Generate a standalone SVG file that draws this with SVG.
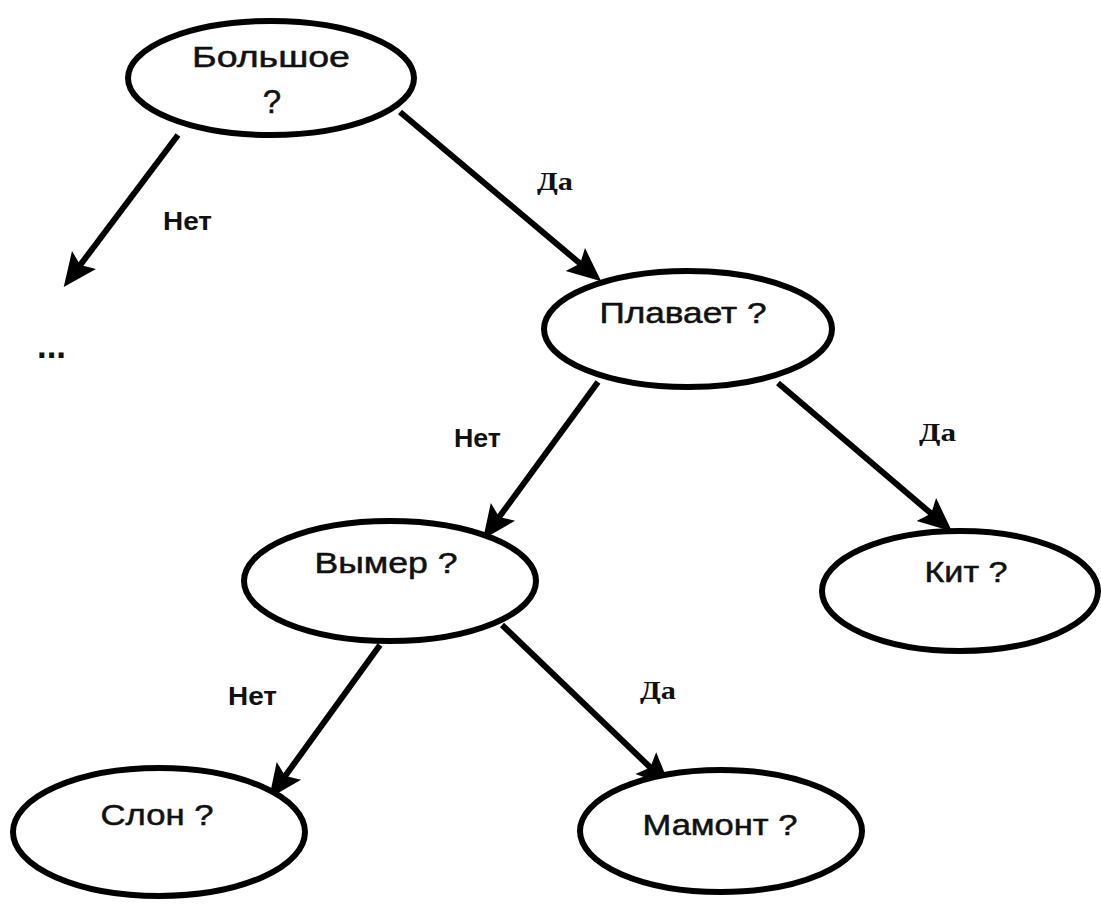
<svg xmlns="http://www.w3.org/2000/svg" width="1101" height="908" viewBox="0 0 1101 908">
  <style>
    .node ellipse { fill: #ffffff; stroke: #000000; stroke-width: 6; }
    .node text { font-family: "Liberation Sans", Arial, sans-serif; font-size: 29px; fill: #111111; stroke: #111111; stroke-width: 0.5; text-anchor: middle; }
    .edge { stroke: #000000; stroke-width: 6; fill: none; marker-end: url(#arrow); }
    .no { font-family: "Liberation Sans", Arial, sans-serif; font-weight: bold; font-size: 26px; fill: #111111; }
    .yes { font-family: "Liberation Serif", "Times New Roman", serif; font-weight: bold; font-size: 26px; fill: #111111; }
    .dots { font-family: "Liberation Sans", Arial, sans-serif; font-weight: bold; font-size: 36px; fill: #111111; }
  </style>
  <defs>
    <marker id="arrow" markerUnits="userSpaceOnUse" markerWidth="40" markerHeight="40" viewBox="-2 -15 32 30" refX="8" refY="0" orient="auto">
      <path d="M0,-12 L27,0 L0,12 L5,0 Z" fill="#000000"/>
    </marker>
  </defs>
  <rect width="1101" height="908" fill="#ffffff"/>

  <!-- connectors -->
  <g id="edges">
    <line class="edge" x1="178" y1="135" x2="78" y2="268"/>
    <line class="edge" x1="400" y1="112" x2="583" y2="266"/>
    <line class="edge" x1="598" y1="382" x2="497" y2="520"/>
    <line class="edge" x1="778" y1="383" x2="934" y2="516"/>
    <line class="edge" x1="380" y1="645" x2="283" y2="779"/>
    <line class="edge" x1="502" y1="625" x2="653" y2="770"/>
  </g>

  <!-- edge labels -->
  <g id="labels">
    <text class="no" x="163" y="230" textLength="49" lengthAdjust="spacingAndGlyphs">Нет</text>
    <text class="yes" x="537" y="190" textLength="36" lengthAdjust="spacingAndGlyphs">Да</text>
    <text class="no" x="454" y="447" textLength="47" lengthAdjust="spacingAndGlyphs">Нет</text>
    <text class="yes" x="919" y="441" textLength="37" lengthAdjust="spacingAndGlyphs">Да</text>
    <text class="no" x="228" y="705" textLength="49" lengthAdjust="spacingAndGlyphs">Нет</text>
    <text class="yes" x="640" y="699" textLength="36" lengthAdjust="spacingAndGlyphs">Да</text>
    <text class="dots" x="37" y="358" textLength="29" lengthAdjust="spacingAndGlyphs">...</text>
  </g>

  <!-- nodes -->
  <g id="node-big" class="node">
    <ellipse cx="271" cy="78" rx="143" ry="57"/>
    <text x="271" y="67" textLength="158" lengthAdjust="spacingAndGlyphs">Большое</text>
    <text x="272" y="113" style="font-size:33px">?</text>
  </g>
  <g id="node-swims" class="node">
    <ellipse cx="688" cy="329" rx="144" ry="58"/>
    <text x="683" y="323" textLength="167" lengthAdjust="spacingAndGlyphs">Плавает ?</text>
  </g>
  <g id="node-extinct" class="node">
    <ellipse cx="390" cy="581" rx="146" ry="60"/>
    <text x="386" y="573" textLength="143" lengthAdjust="spacingAndGlyphs">Вымер ?</text>
  </g>
  <g id="node-whale" class="node">
    <ellipse cx="960" cy="591" rx="138" ry="60"/>
    <text x="966" y="582" textLength="83" lengthAdjust="spacingAndGlyphs">Кит ?</text>
  </g>
  <g id="node-elephant" class="node">
    <ellipse cx="159" cy="832" rx="146" ry="64"/>
    <text x="157" y="825" textLength="113" lengthAdjust="spacingAndGlyphs">Слон ?</text>
  </g>
  <g id="node-mammoth" class="node">
    <ellipse cx="721" cy="831" rx="141" ry="61"/>
    <text x="720" y="835" textLength="155" lengthAdjust="spacingAndGlyphs">Мамонт ?</text>
  </g>
</svg>
